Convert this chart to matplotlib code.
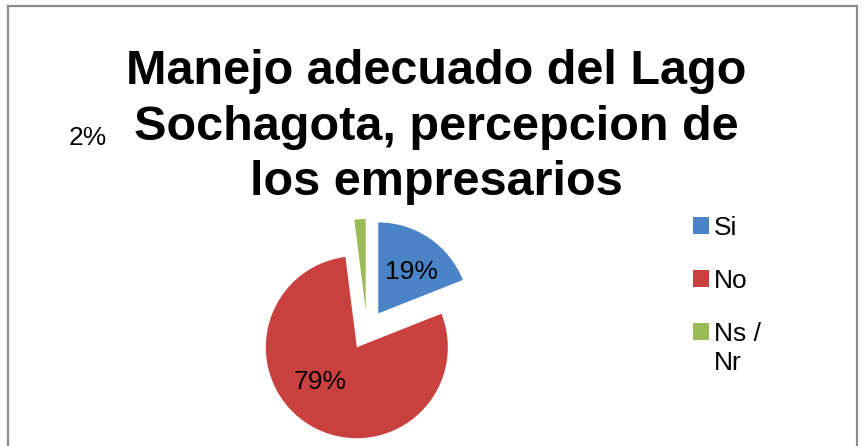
import numpy as np
import matplotlib.pyplot as plt
import matplotlib.patches as mpatches

plt.rcParams['font.family'] = ['Liberation Sans', 'DejaVu Sans']

# data
categorias = ['Si', 'No', 'Ns /\nNr']
porcentajes = [19, 79, 2]
colores = ['#4A84C6', '#C9413F', '#9BBB59']
titulo = 'Manejo adecuado del Lago\nSochagota, percepcion de\nlos empresarios'

W, H = 863, 446
fig = plt.figure(figsize=(W / 100, H / 100), dpi=100)

# outer border of the chart area
fig.add_artist(mpatches.Rectangle((8 / W, -0.05), 849 / W, (H - 6) / H + 0.05,
                                  transform=fig.transFigure, fill=False,
                                  edgecolor='#8c8c8c', linewidth=1.6))

fig.text(436 / W, 1 - 127 / H, titulo, ha='center', va='center',
         fontsize=35, fontweight='bold', linespacing=1.3)

# pie axes: 100 px per data unit, centre of the pie at (367, 330) px
cx, cy, half = 367, 330, 150
ax = fig.add_axes([(cx - half) / W, 1 - (cy + half) / H, 2 * half / W, 2 * half / H])
wedges, texts, autotexts = ax.pie(porcentajes, colors=colores, startangle=90,
                                  counterclock=False, radius=0.91,
                                  explode=[0.2, 0.2, 0.2],
                                  autopct='%1.0f%%', pctdistance=0.6,
                                  textprops={'fontsize': 19},
                                  wedgeprops={'linewidth': 0.6, 'edgecolor': 'none'})
ax.set_xlim(-1.5, 1.5)
ax.set_ylim(-1.5, 1.5)
ax.set_aspect('equal')
ax.axis('off')

# label placement as in the original chart
autotexts[0].set_position((0.44, 0.58))
autotexts[1].set_position((-0.47, -0.52))
autotexts[2].set_position((-2.79, 1.92))
autotexts[2].set_clip_on(False)

# legend: marker sits on the first line of a wrapped label
primeras = [c.split('\n')[0] for c in categorias]
handles = [mpatches.Patch(facecolor=c, edgecolor='none') for c in colores]
leg = fig.legend(handles, primeras, loc='upper left',
                 bbox_to_anchor=(669 / W, 1 - 192 / H), frameon=False,
                 fontsize=19, handlelength=0.6, handleheight=0.6,
                 handletextpad=0.2, labelspacing=1.1)

fig.canvas.draw()
for txt, cat in zip(leg.get_texts(), categorias):
    resto = cat.split('\n')[1:]
    if resto:
        bb = txt.get_window_extent()
        fig.text(bb.x0 / W, (bb.y0 - 29) / H, '\n'.join(resto),
                 fontsize=19, ha='left', va='bottom')

fig.savefig('out.png', dpi=100)
